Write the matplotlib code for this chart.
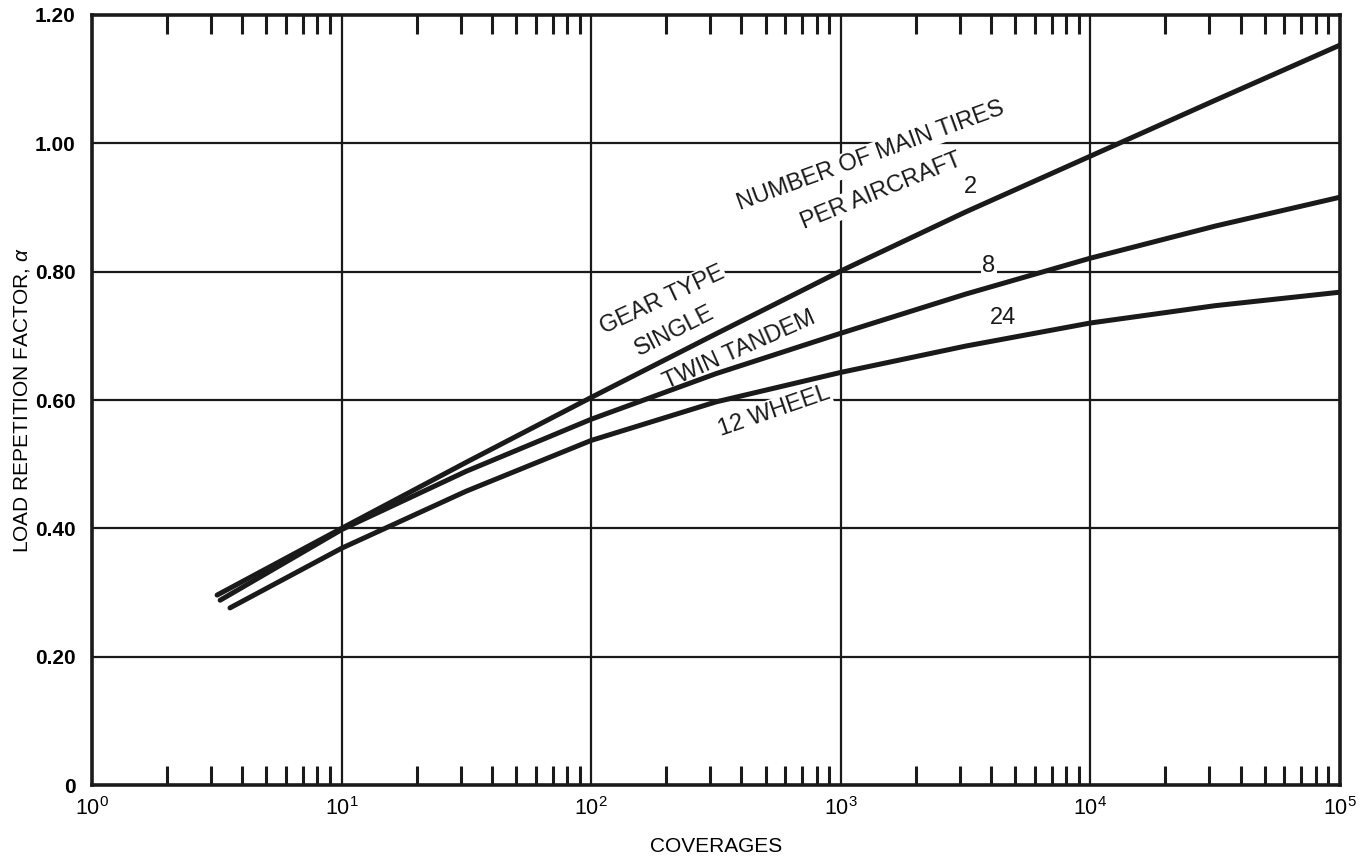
import numpy as np
import matplotlib
matplotlib.use('Agg')
import matplotlib.pyplot as plt
from matplotlib.ticker import LogLocator, FixedLocator, NullFormatter

plt.rcParams['font.family'] = ['Liberation Sans', 'DejaVu Sans']
plt.rcParams['mathtext.fontset'] = 'custom'
plt.rcParams['mathtext.rm'] = 'Liberation Sans'
plt.rcParams['mathtext.it'] = 'Liberation Sans:italic'

# coverages vs. load repetition factor, one curve per gear type
cov_single = [3.17, 10, 31.6, 100, 316, 1000, 3162, 1e4, 31623, 1e5]
alpha_single = [0.296, 0.400, 0.503, 0.604, 0.703, 0.801, 0.893, 0.980, 1.067, 1.153]

cov_twin = [3.26, 10, 31.6, 100, 316, 1000, 3162, 1e4, 31623, 1e5]
alpha_twin = [0.288, 0.398, 0.489, 0.570, 0.641, 0.704, 0.765, 0.821, 0.871, 0.916]

cov_12w = [3.57, 10, 31.6, 100, 316, 1000, 3162, 1e4, 31623, 1e5]
alpha_12w = [0.276, 0.369, 0.458, 0.537, 0.597, 0.643, 0.684, 0.720, 0.747, 0.768]

y_ticks = [0, 0.2, 0.4, 0.6, 0.8, 1.0, 1.2]
y_labels = ['0', '0.20', '0.40', '0.60', '0.80', '1.00', '1.20']
x_ticks = [1, 10, 100, 1000, 1e4, 1e5]
x_labels = [r'$10^{0}$', r'$10^{1}$', r'$10^{2}$', r'$10^{3}$', r'$10^{4}$', r'$10^{5}$']

fig = plt.figure(figsize=(13.7, 8.57), dpi=100)
ax = fig.add_axes([0.0672, 0.084, 0.9108, 0.8985])

ax.set_xscale('log')
ax.set_xlim(1, 1e5)
ax.set_ylim(0, 1.2)

for xv in x_ticks[1:-1]:
    ax.axvline(xv, color='#1a1a1a', lw=1.6, zorder=1)
for yv in y_ticks[1:-1]:
    ax.axhline(yv, color='#1a1a1a', lw=1.6, zorder=1)

for xs, ys in [(cov_single, alpha_single), (cov_twin, alpha_twin), (cov_12w, alpha_12w)]:
    ax.plot(xs, ys, color='#1a1a1a', lw=3.6, solid_capstyle='round',
            solid_joinstyle='round', zorder=5)

for s in ax.spines.values():
    s.set_linewidth(2.6)
    s.set_color('#1a1a1a')

ax.xaxis.set_major_locator(FixedLocator(x_ticks))
ax.set_xticklabels(x_labels)
ax.xaxis.set_minor_locator(LogLocator(base=10, subs=np.arange(2, 10), numticks=20))
ax.xaxis.set_minor_formatter(NullFormatter())
ax.tick_params(axis='x', which='minor', direction='in', length=14, width=2.2,
               top=True, bottom=True, color='#1a1a1a')
ax.tick_params(axis='x', which='major', length=0, pad=9, labelsize=15.5)
ax.set_yticks(y_ticks)
ax.set_yticklabels(y_labels, fontweight='bold')
ax.tick_params(axis='y', which='major', length=0, pad=12, labelsize=15)

ax.set_xlabel('COVERAGES', fontsize=15, labelpad=12)
ax.set_ylabel(r'LOAD REPETITION FACTOR, $\alpha$', fontsize=15, labelpad=2)

box = dict(facecolor='white', edgecolor='none', pad=1)
txt = dict(fontsize=17, color='#1a1a1a', ha='center', va='center', bbox=box,
           zorder=3, transform=ax.transData)

def at(px, py):
    # place by figure pixel, converted to data coords
    inv = ax.transData.inverted()
    return inv.transform((px, 857 - py))

labels = [
    ('PER AIRCRAFT', 881, 191, 22),
    ('NUMBER OF MAIN TIRES', 871, 156, 20),
    ('2', 970, 187, 0),
    ('8', 989, 266, 0),
    ('24', 1003, 318, 0),
    ('GEAR TYPE', 662, 300, 25),
    ('SINGLE', 675, 331, 27),
    ('TWIN TANDEM', 739, 350, 24),
    ('12 WHEEL', 774, 411, 19),
]
fig.canvas.draw()
for s, px, py, rot in labels:
    x, y = at(px, py)
    ax.text(x, y, s, rotation=rot, rotation_mode='anchor', **txt)

fig.savefig('out.png', dpi=100)
